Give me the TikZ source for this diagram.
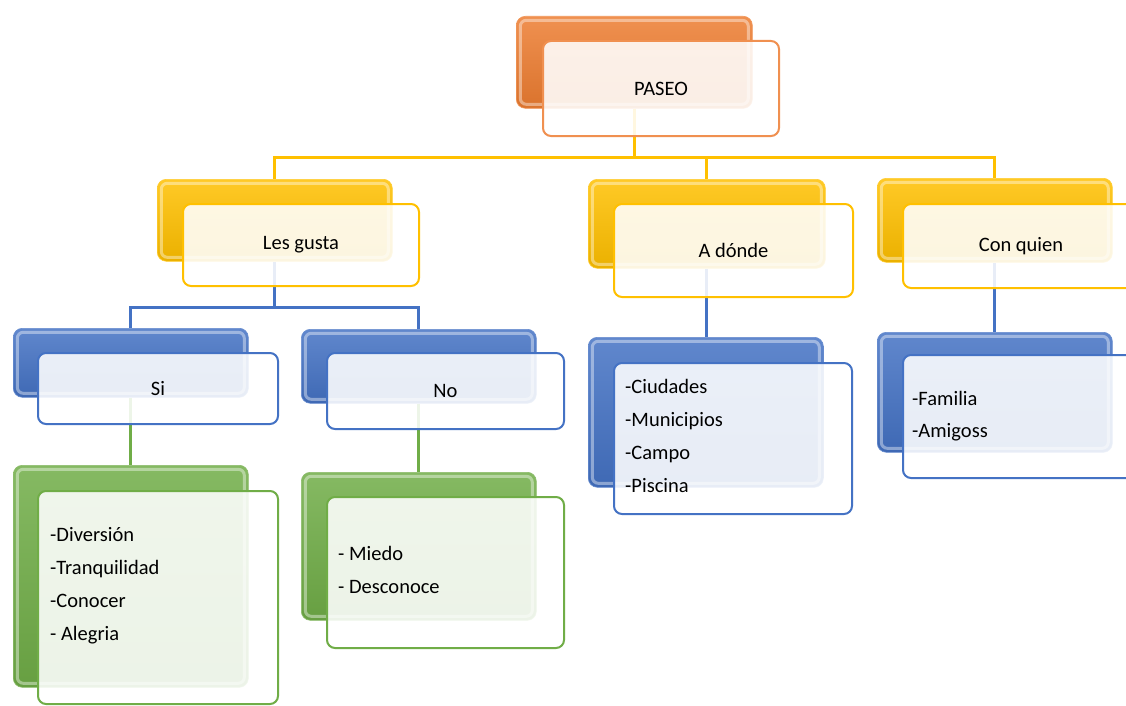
\documentclass[tikz,border=0pt]{standalone}
\usepackage{fontspec}
\setmainfont{Carlito}
\usetikzlibrary{backgrounds}
\definecolor{cOr}{HTML}{ED7D31}
\definecolor{cYe}{HTML}{FFC000}
\definecolor{cBl}{HTML}{4472C4}
\definecolor{cGr}{HTML}{70AD47}
\newcommand\mylbl{\fontsize{20.5}{32.7}\selectfont}
\tikzset{
 backbox/.style={rectangle, rounded corners=9pt, inner sep=0pt, anchor=north west,
   top color=#1!85!white, middle color=#1, bottom color=#1!92!black,
   draw=#1!80!white, line width=0.6pt,
   path picture={\draw[white, opacity=.4, line width=3pt, rounded corners=6pt]
     ([shift={(4pt,-4pt)}]path picture bounding box.north west) rectangle
     ([shift={(-4pt,4pt)}]path picture bounding box.south east);}},
 frontbox/.style={rectangle, rounded corners=8pt, inner sep=0pt, anchor=north west,
   draw=#1, line width=2pt, fill=white, fill opacity=0.88, text opacity=1, font=\mylbl},
 conn/.style={draw=#1, line width=3pt},
 listtext/.style={anchor=west, align=left, inner sep=0pt, font=\mylbl},
}
\begin{document}
\begin{tikzpicture}[x=1pt,y=-1pt]
\useasboundingbox (0,0) rectangle (1126,706);
\clip (0,0) rectangle (1126,706);
\coordinate (h1) at (0,157);
\coordinate (h2) at (0,307);
% back boxes
\node[backbox=cOr, minimum width=236pt, minimum height=92pt] (paseoB) at (516,16) {};
\node[backbox=cYe, minimum width=235pt, minimum height=82pt] (lesB) at (157,179) {};
\node[backbox=cYe, minimum width=237pt, minimum height=89pt] (adoB) at (588,179) {};
\node[backbox=cYe, minimum width=235pt, minimum height=84pt] (conB) at (877,178) {};
\node[backbox=cBl, minimum width=235pt, minimum height=69pt] (siB) at (13,328) {};
\node[backbox=cBl, minimum width=235pt, minimum height=74pt] (noB) at (301,329) {};
\node[backbox=cBl, minimum width=235pt, minimum height=150pt] (ciB) at (588,337) {};
\node[backbox=cBl, minimum width=235pt, minimum height=120pt] (faB) at (877,332) {};
\node[backbox=cGr, minimum width=235pt, minimum height=222pt] (dvB) at (13,465) {};
\node[backbox=cGr, minimum width=235pt, minimum height=148pt] (mdB) at (301,472) {};
% front boxes
\node[frontbox=cOr!85!white, minimum width=236pt, minimum height=95pt] (paseo) at (542,40) {PASEO};
\node[frontbox=cYe, minimum width=236pt, minimum height=82pt] (les) at (182,203) {Les gusta};
\node[frontbox=cYe, minimum width=239pt, minimum height=93pt] (ado) at (613,203) {A dónde};
\node[frontbox=cYe, minimum width=236pt, minimum height=84pt] (con) at (902,203) {Con quien};
\node[frontbox=cBl, minimum width=240pt, minimum height=71pt] (si) at (37,352) {Si};
\node[frontbox=cBl, minimum width=237pt, minimum height=76pt] (no) at (326,352) {No};
\node[frontbox=cBl, minimum width=238pt, minimum height=151pt] (ci) at (613,362) {};
\node[frontbox=cBl, minimum width=236pt, minimum height=123pt] (fa) at (902,354) {};
\node[frontbox=cGr, minimum width=240pt, minimum height=213pt] (dv) at (37,490) {};
\node[frontbox=cGr, minimum width=237pt, minimum height=151pt] (md) at (326,496) {};
% list texts
\node[listtext] (dvT) at (50,584.5) {\strut-Diversión\\\strut-Tranquilidad\\\strut-Conocer\\\strut- Alegria};
\node[listtext] (mdT) at (338,570.8) {\strut- Miedo\\\strut- Desconoce};
\node[listtext] (ciT) at (625,436.5) {\strut-Ciudades\\\strut-Municipios\\\strut-Campo\\\strut-Piscina};
\node[listtext] (faT) at (912,415) {\strut-Familia\\\strut-Amigoss};
% connectors
\begin{pgfonlayer}{background}
\fill[white] (0,0) rectangle (1126,706);
\draw[conn=cYe] (paseoB.south) -- (paseoB.south |- h1) -| (lesB.north);
\draw[conn=cYe] (paseoB.south) -- (paseoB.south |- h1) -| (adoB.north);
\draw[conn=cYe] (paseoB.south) -- (paseoB.south |- h1) -| (conB.north);
\draw[conn=cBl] (lesB.south) -- (lesB.south |- h2) -| (siB.north);
\draw[conn=cBl] (lesB.south) -- (lesB.south |- h2) -| (noB.north);
\draw[conn=cBl] (adoB.south) -- (adoB.south |- ciB.north);
\draw[conn=cBl] (conB.south) -- (conB.south |- faB.north);
\draw[conn=cGr] (siB.south) -- (siB.south |- dvB.north);
\draw[conn=cGr] (noB.south) -- (noB.south |- mdB.north);
\end{pgfonlayer}
\end{tikzpicture}
\end{document}
